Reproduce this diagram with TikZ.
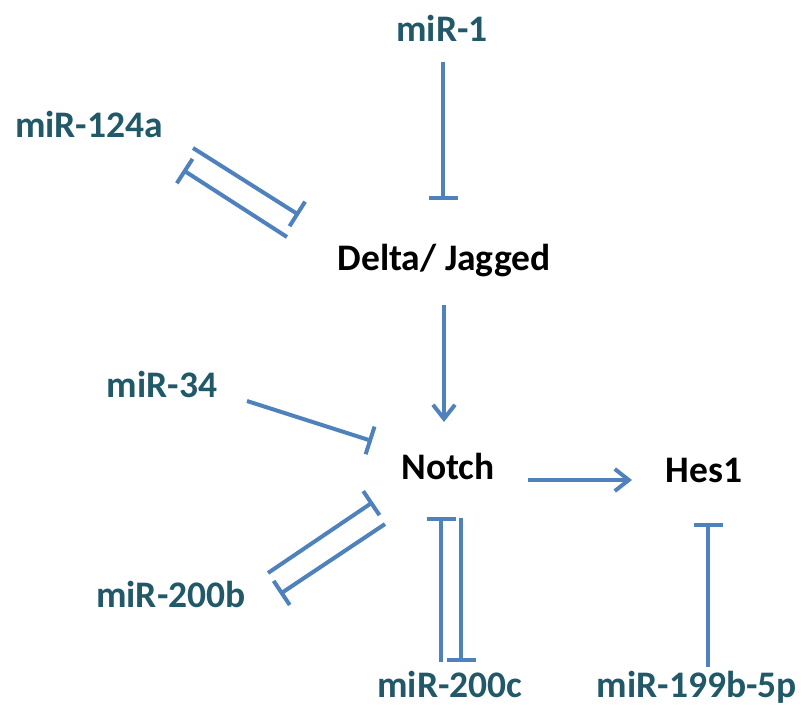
\documentclass[tikz,border=0pt]{standalone}
\usepackage{fontspec}
\setmainfont{Carlito}
\usetikzlibrary{positioning,arrows.meta}

\definecolor{mirteal}{HTML}{215968}
\definecolor{linkblue}{HTML}{4F81BD}

\tikzset{
  mir/.style={text=mirteal,font=\bfseries\fontsize{37.5}{40}\selectfont,anchor=base,inner sep=0pt},
  gene/.style={text=black,font=\bfseries\fontsize{37.5}{40}\selectfont,anchor=base,inner sep=0pt},
  inh/.style={draw=linkblue,line width=4pt,-{Bar[width=29pt]}},
  act/.style={draw=linkblue,line width=4pt,-{Straight Barb[length=14pt,width=22pt]}}
}

\begin{document}
\begin{tikzpicture}[x=1pt,y=-1pt]
  \useasboundingbox (0,0) rectangle (808,718);
  % labels
  \node[mir] (mir1) at (442,41) {miR-1};
  \node[mir] (mir124a) at (89,137) {miR-124a};
  \node[gene] (delta) at (444,270) {Delta/ Jagged};
  \node[mir] (mir34) at (162,397) {miR-34};
  \node[gene] (notch) at (448,479) {Notch};
  \node[gene] (hes1) at (704,482) {Hes1};
  \node[mir] (mir200b) at (171,607) {miR-200b};
  \node[mir] (mir200c) at (450,697) {miR-200c};
  \node[mir] (mir199) at (697,697) {miR-199b-5p};
  % line ends
  \coordinate (mir1-out) at (443,62);
  \coordinate (delta-top) at (443,200);
  \coordinate (mir124a-out) at (193,148);
  \coordinate (delta-left) at (299,215);
  \coordinate (delta-back) at (287,237);
  \coordinate (mir124a-in) at (183,170);
  \coordinate (delta-out) at (444,305);
  \coordinate (notch-top) at (444,422);
  \coordinate (mir34-out) at (247,401);
  \coordinate (notch-left) at (372,441);
  \coordinate (notch-out) at (528,480);
  \coordinate (hes1-in) at (632,480);
  \coordinate (mir200b-out) at (268,573);
  \coordinate (notch-bl) at (373,502);
  \coordinate (notch-back) at (385,524);
  \coordinate (mir200b-in) at (280,594);
  \coordinate (mir200c-out) at (441,662);
  \coordinate (notch-bottom) at (441,517);
  \coordinate (notch-down) at (461,518);
  \coordinate (mir200c-in) at (461,662);
  \coordinate (mir199-out) at (708,667);
  \coordinate (hes1-bottom) at (708,523);
  % connectors
  \draw[inh] (mir1-out) -- (delta-top);
  \draw[inh] (mir124a-out) -- (delta-left);
  \draw[inh] (delta-back) -- (mir124a-in);
  \draw[act] (delta-out) -- (notch-top);
  \draw[inh] (mir34-out) -- (notch-left);
  \draw[act] (notch-out) -- (hes1-in);
  \draw[inh] (mir200b-out) -- (notch-bl);
  \draw[inh] (notch-back) -- (mir200b-in);
  \draw[inh] (mir200c-out) -- (notch-bottom);
  \draw[inh] (notch-down) -- (mir200c-in);
  \draw[inh] (mir199-out) -- (hes1-bottom);
\end{tikzpicture}
\end{document}
